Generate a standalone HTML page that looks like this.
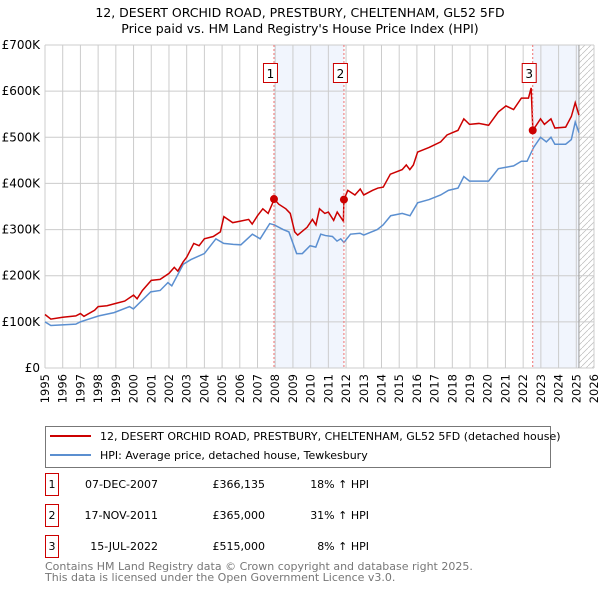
<!DOCTYPE html>
<html><head><meta charset="utf-8"><style>
body{margin:0;background:#fff;font-family:"Liberation Sans","DejaVu Sans",sans-serif;}
svg text{font-family:"DejaVu Sans","Liberation Sans",sans-serif;}
</style></head><body>
<svg id="c" width="600" height="590" viewBox="0 0 600 590"></svg>
<script>
const redYears=[1995,1995.33,1996,1996.74,1997,1997.2,1997.8,1998,1998.5,1999,1999.5,2000,2000.2,2000.5,2001,2001.5,2002,2002.3,2002.5,2002.8,2003,2003.4,2003.7,2004,2004.5,2004.9,2005.1,2005.6,2006,2006.5,2006.7,2007,2007.3,2007.6,2007.95,2008.2,2008.6,2008.85,2009.1,2009.27,2009.8,2010.1,2010.3,2010.5,2010.8,2011,2011.3,2011.5,2011.85,2011.88,2012.1,2012.5,2012.8,2013,2013.5,2013.8,2014.1,2014.5,2015.17,2015.4,2015.6,2015.8,2016.04,2016.69,2017.34,2017.7,2018,2018.32,2018.65,2018.97,2019.5,2020.05,2020.6,2021.03,2021.46,2021.9,2022.3,2022.45,2022.55,2022.98,2023.2,2023.57,2023.79,2024.4,2024.72,2024.94,2025.15];
const redVals=[116,106,110,113,118,112,125,133,135,140,145,158,150,168,190,192,205,218,210,230,240,270,265,280,285,295,328,315,318,322,312,330,345,335,366,355,345,335,295,288,305,322,310,345,335,338,320,338,318,365,385,375,388,375,385,390,392,420,430,440,430,440,468,478,490,505,510,515,540,528,530,526,555,568,560,585,585,607,515,540,528,540,520,522,545,575,548];
const hpiYears=[1995,1995.33,1996.74,1997,1997.39,1998.04,1998.9,1999.77,1999.99,2000.97,2001.5,2001.94,2002.16,2002.81,2003.24,2004,2004.65,2005.09,2005.63,2006.06,2006.71,2007.15,2007.69,2007.95,2008.45,2008.77,2009.21,2009.53,2009.97,2010.29,2010.57,2010.84,2011.23,2011.49,2011.7,2011.88,2012.25,2012.79,2013,2013.76,2014.09,2014.52,2015.17,2015.61,2016.04,2016.69,2017.34,2017.78,2018.32,2018.65,2018.97,2019.73,2020.05,2020.6,2021.03,2021.46,2021.9,2022.22,2022.59,2022.98,2023.31,2023.57,2023.79,2024.4,2024.72,2024.94,2025.15];
const hpiVals=[100,92,95,100,105,113,120,133,128,165,168,185,178,225,235,248,280,270,268,267,290,280,313,310,300,295,248,248,265,262,290,287,285,275,280,272,290,292,288,300,310,330,335,330,358,365,375,385,390,415,405,405,405,432,435,438,448,448,478,500,490,500,485,485,495,533,510];
const salesYears=[2007.93,2011.88,2022.54];
const salesVals=[366.135,365,515];
const yTicks=[0,100,200,300,400,500,600,700];
const yTickLabels=["£0","£100K","£200K","£300K","£400K","£500K","£600K","£700K"];
const xTicks=[1995,1996,1997,1998,1999,2000,2001,2002,2003,2004,2005,2006,2007,2008,2009,2010,2011,2012,2013,2014,2015,2016,2017,2018,2019,2020,2021,2022,2023,2024,2025,2026];
const L=45,R=594,T=45,B=368;
const X=y=>L+(y-1995)/31*(R-L);
const Y=v=>B-v/700*(B-T);
const s=document.getElementById('c');const NS="http://www.w3.org/2000/svg";
function mk(tag,at,txt){const e=document.createElementNS(NS,tag);for(const k in at)e.setAttribute(k,at[k]);if(txt!=null)e.textContent=txt;s.appendChild(e);return e;}
let e;
e=mk('text',{x:300,y:17,'text-anchor':'middle','font-size':12.5},'12, DESERT ORCHID ROAD, PRESTBURY, CHELTENHAM, GL52 5FD');

e=mk('text',{x:300,y:33,'text-anchor':'middle','font-size':12.5},"Price paid vs. HM Land Registry's House Price Index (HPI)");

e=mk('rect',{x:X(2007.93),y:T,width:X(2011.88)-X(2007.93),height:B-T,fill:'#eef3fc',opacity:0.8});

e=mk('rect',{x:X(2022.54),y:T,width:X(2025.15)-X(2022.54),height:B-T,fill:'#eef3fc',opacity:0.8});

const defs=mk('defs',{});
const pat=document.createElementNS(NS,'pattern');pat.setAttribute('id','h');pat.setAttribute('width',6);pat.setAttribute('height',6);pat.setAttribute('patternUnits','userSpaceOnUse');
const pl=document.createElementNS(NS,'path');pl.setAttribute('d','M0,6 L6,0');pl.setAttribute('stroke','#bbb');pl.setAttribute('stroke-width',0.7);pat.appendChild(pl);defs.appendChild(pat);
e=mk('rect',{x:X(2025.15),y:T,width:R-X(2025.15),height:B-T,fill:'url(#h)'});

xTicks.forEach(t=>{e=mk('line',{x1:X(t),x2:X(t),y1:T,y2:B,stroke:'#ccc','stroke-width':1});

e=mk('text',{x:0,y:0,'text-anchor':'end','font-size':11.5,transform:`translate(${X(t)+4},374) rotate(-90)`},t);
});
yTicks.forEach((t,i)=>{e=mk('line',{x1:L,x2:R,y1:Y(t),y2:Y(t),stroke:'#ccc','stroke-width':1});

e=mk('text',{x:L-5,y:Y(t)+4,'text-anchor':'end','font-size':12},yTickLabels[i]);
});
e=mk('line',{x1:L,x2:L,y1:T,y2:B,stroke:'#ccc'});
e=mk('line',{x1:L,x2:R,y1:B,y2:B,stroke:'#ccc'});
e=mk('line',{x1:X(2025.15),x2:X(2025.15),y1:T,y2:B,stroke:'#999'});
e=mk('polyline',{points:hpiYears.map((y,i)=>X(y)+','+Y(hpiVals[i])).join(' '),fill:'none',stroke:'#5b8fd0','stroke-width':1.5});

e=mk('polyline',{points:redYears.map((y,i)=>X(y)+','+Y(redVals[i])).join(' '),fill:'none',stroke:'#cc0000','stroke-width':1.5});

salesYears.forEach((y,i)=>{
e=mk('line',{x1:X(y),x2:X(y),y1:T,y2:B,stroke:'#f07070','stroke-dasharray':'2,2','stroke-width':1});

e=mk('circle',{cx:X(y),cy:Y(salesVals[i]),r:4,fill:'#cc0000'});

e=mk('rect',{x:X(y)-10.5,y:63.5,width:14,height:19,fill:'#fff',stroke:'#cc0000'});

e=mk('text',{x:X(y)-3.5,y:78,'text-anchor':'middle','font-size':12},i+1);
});
e=mk('rect',{x:45.5,y:426.5,width:505,height:41,fill:'#fff',stroke:'#777'});

e=mk('line',{x1:50,x2:91,y1:436,y2:436,stroke:'#cc0000','stroke-width':2});
e=mk('text',{x:100,y:440,'font-size':11},'12, DESERT ORCHID ROAD, PRESTBURY, CHELTENHAM, GL52 5FD (detached house)');
e=mk('line',{x1:50,x2:91,y1:455,y2:455,stroke:'#5b8fd0','stroke-width':2});
e=mk('text',{x:100,y:459,'font-size':11},'HPI: Average price, detached house, Tewkesbury');
const rows=[["1","07-DEC-2007","£366,135","18% ↑ HPI"],["2","17-NOV-2011","£365,000","31% ↑ HPI"],["3","15-JUL-2022","£515,000","8% ↑ HPI"]];
rows.forEach((r,i)=>{const yy=484+i*31;
e=mk('rect',{x:45.5,y:yy-10.5,width:13,height:22,fill:'#fff',stroke:'#cc0000'});
e=mk('text',{x:52,y:yy+4,'text-anchor':'middle','font-size':11},r[0]);
e=mk('text',{x:158,y:yy+4,'text-anchor':'end','font-size':11},r[1]);
e=mk('text',{x:265,y:yy+4,'text-anchor':'end','font-size':11},r[2]);
e=mk('text',{x:369,y:yy+4,'text-anchor':'end','font-size':11},r[3]);});
e=mk('text',{x:45,y:570,'font-size':11,fill:'#777'},'Contains HM Land Registry data © Crown copyright and database right 2025.');
e=mk('text',{x:45,y:581,'font-size':11,fill:'#777'},'This data is licensed under the Open Government Licence v3.0.');
</script>
</body></html>
